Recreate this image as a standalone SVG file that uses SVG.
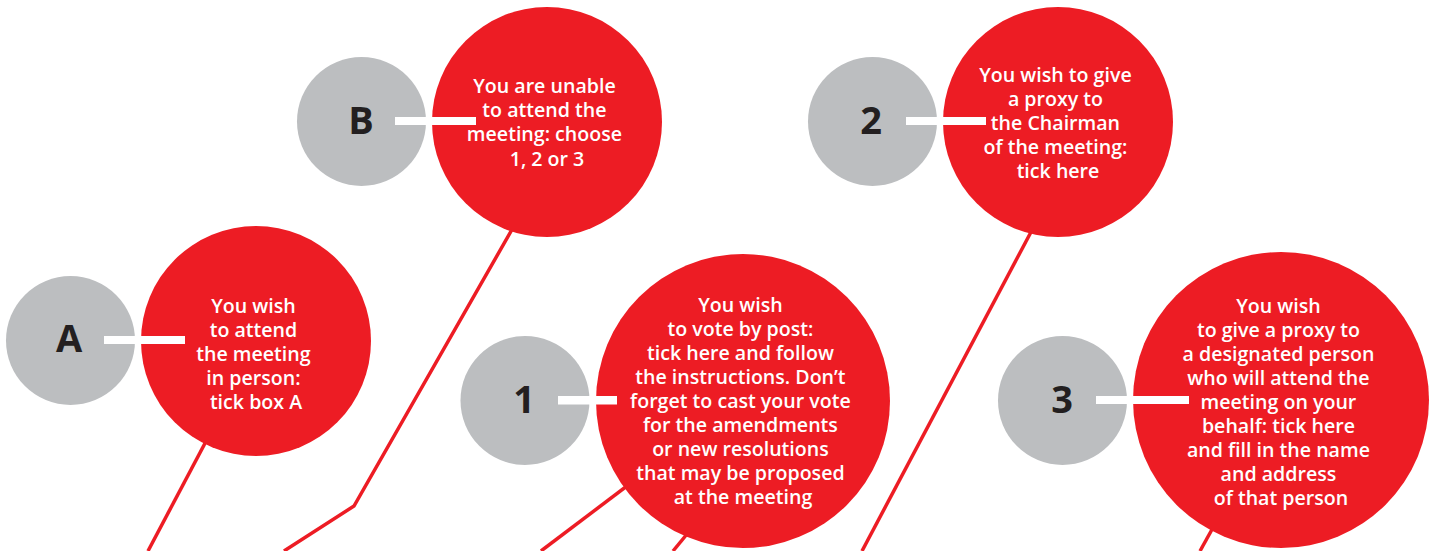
<svg xmlns="http://www.w3.org/2000/svg" width="1435" height="551" viewBox="0 0 1435 551">
  <style>
    .disc { fill: #BCBEC0; }
    .bubble { fill: #ED1C24; }
    .key { font-family: "Open Sans", "Liberation Sans", sans-serif; font-weight: 700; font-size: 38px; fill: #231F20; text-anchor: middle; }
    .body { font-family: "Open Sans", "Liberation Sans", sans-serif; font-weight: 600; font-size: 19.6px; fill: #FFFFFF; text-anchor: middle; }
    .bar { fill: #FFFFFF; }
    .wire { fill: none; stroke: #ED1C24; stroke-width: 3.5; stroke-linejoin: miter; }
  </style>

  <!-- leader lines, drawn first so the bubbles sit on top -->
  <g id="connectors">
    <polyline class="wire" points="230,396 148,551"/>
    <polyline class="wire" points="530,198 354,506 284,551"/>
    <polyline class="wire" points="660,461 541,551"/>
    <polyline class="wire" points="692,528 673,551"/>
    <polyline class="wire" points="1040,215 862,551"/>
    <polyline class="wire" points="1220,515 1200,551"/>
  </g>

  <g id="option-A">
    <circle class="disc" cx="70.5" cy="340.5" r="64.5"/>
    <circle class="bubble" cx="256" cy="341" r="115"/>
    <rect class="bar" x="104" y="336" width="81" height="8"/>
    <text class="key" x="69" y="352">A</text>
    <text class="body">
      <tspan x="256" y="312.5">You wish</tspan>
      <tspan x="256" y="336.5">to attend</tspan>
      <tspan x="256" y="360.5">the meeting</tspan>
      <tspan x="256" y="384.5">in person:</tspan>
      <tspan x="256" y="408.5">tick box A</tspan>
    </text>
  </g>

  <g id="option-B">
    <circle class="disc" cx="361.5" cy="121.5" r="64.5"/>
    <circle class="bubble" cx="547" cy="122" r="115"/>
    <rect class="bar" x="395" y="117" width="81" height="8"/>
    <text class="key" x="361" y="134">B</text>
    <text class="body">
      <tspan x="547" y="93">You are unable</tspan>
      <tspan x="547" y="117">to attend the</tspan>
      <tspan x="547" y="141">meeting: choose</tspan>
      <tspan x="547" y="165.5">1, 2 or 3</tspan>
    </text>
  </g>

  <g id="option-1">
    <circle class="disc" cx="525" cy="400.5" r="64.5"/>
    <circle class="bubble" cx="743" cy="401" r="147"/>
    <rect class="bar" x="558" y="396" width="59" height="8.5"/>
    <text class="key" x="524" y="413">1</text>
    <text class="body">
      <tspan x="743" y="311.5">You wish</tspan>
      <tspan x="743" y="335.5">to vote by post:</tspan>
      <tspan x="743" y="359.5">tick here and follow</tspan>
      <tspan x="743" y="383.5">the instructions. Don’t</tspan>
      <tspan x="743" y="407.5">forget to cast your vote</tspan>
      <tspan x="743" y="431.5">for the amendments</tspan>
      <tspan x="743" y="455.5">or new resolutions</tspan>
      <tspan x="743" y="479.5">that may be proposed</tspan>
      <tspan x="743" y="503.5">at the meeting</tspan>
    </text>
  </g>

  <g id="option-2">
    <circle class="disc" cx="872.5" cy="121.5" r="64.5"/>
    <circle class="bubble" cx="1058" cy="122" r="115"/>
    <rect class="bar" x="906" y="117" width="80" height="8"/>
    <text class="key" x="871" y="134">2</text>
    <text class="body">
      <tspan x="1058" y="82">You wish to give</tspan>
      <tspan x="1058" y="106">a proxy to</tspan>
      <tspan x="1058" y="130">the Chairman</tspan>
      <tspan x="1058" y="154">of the meeting:</tspan>
      <tspan x="1058" y="178">tick here</tspan>
    </text>
  </g>

  <g id="option-3">
    <circle class="disc" cx="1062.5" cy="400.5" r="64.5"/>
    <circle class="bubble" cx="1281" cy="400" r="148"/>
    <rect class="bar" x="1096" y="396" width="93" height="8"/>
    <text class="key" x="1062" y="413">3</text>
    <text class="body">
      <tspan x="1281" y="312.5">You wish</tspan>
      <tspan x="1281" y="336.5">to give a proxy to</tspan>
      <tspan x="1281" y="360.5">a designated person</tspan>
      <tspan x="1281" y="384.5">who will attend the</tspan>
      <tspan x="1281" y="408.5">meeting on your</tspan>
      <tspan x="1281" y="432.5">behalf: tick here</tspan>
      <tspan x="1281" y="456.5">and fill in the name</tspan>
      <tspan x="1281" y="480.5">and address</tspan>
      <tspan x="1281" y="504.5">of that person</tspan>
    </text>
  </g>
</svg>
